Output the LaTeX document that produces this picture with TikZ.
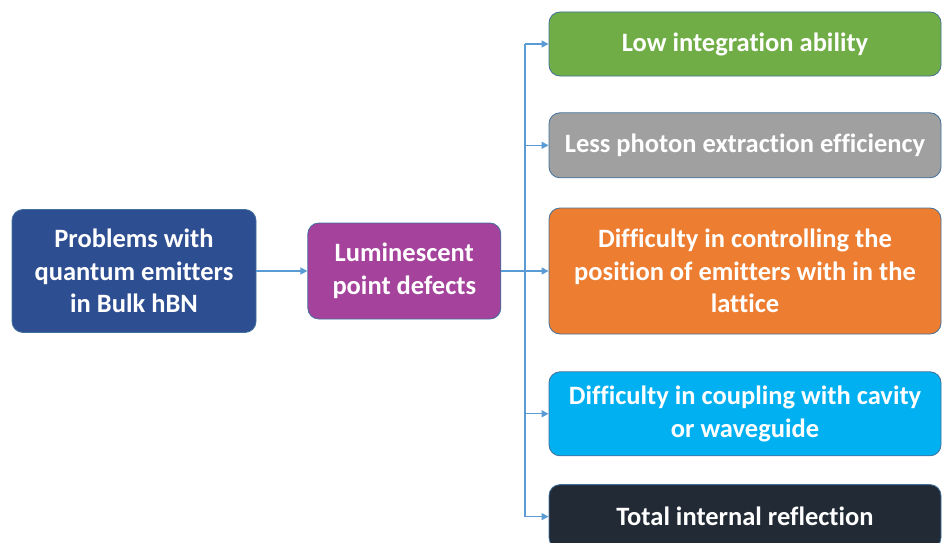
\documentclass[tikz,border=0pt]{standalone}
\usepackage{fontspec}
\setmainfont{Carlito}[Ligatures=NoCommon]
\usepackage{tikz}
\usetikzlibrary{arrows.meta,positioning}
\definecolor{probblue}{HTML}{2E4E92}
\definecolor{defpurple}{HTML}{A4429C}
\definecolor{lowgreen}{HTML}{70AD47}
\definecolor{lessgray}{HTML}{A0A0A0}
\definecolor{ctrlorange}{HTML}{ED7D31}
\definecolor{coupcyan}{HTML}{00B0F0}
\definecolor{tirdark}{HTML}{222A35}
\definecolor{boxedge}{HTML}{41719C}
\definecolor{linkblue}{HTML}{5B9BD5}

\tikzset{
  box/.style={draw=boxedge, line width=0.8pt, rounded corners=11pt, text=white,
    font=\bfseries\fontsize{26.5}{32.5}\selectfont, align=center, inner sep=0pt},
  item/.style={box, minimum width=392pt},
  link/.style={draw=linkblue, line width=1.3pt},
  arrow/.style={link, -{Triangle[length=7pt,width=7pt]}}
}

\begin{document}
\begin{tikzpicture}[x=1pt, y=1pt]
\clip (0,0) rectangle (942,-543);

% left side
\node[box, fill=probblue, minimum width=244pt, minimum height=123pt] (prob) at (134,-271)
  {Problems with\\quantum emitters\\in Bulk hBN};
\node[box, fill=defpurple, minimum width=193pt, minimum height=96pt, right=51pt of prob] (defects)
  {Luminescent\\point defects};

% list of problems
\node[item, fill=lowgreen, minimum height=64pt] (low) at (745,-44) {Low integration ability};
\node[item, fill=lessgray, minimum height=65pt, below=36pt of low] (less) {Less photon extraction efficiency};
\node[item, fill=ctrlorange, minimum height=126pt] (ctrl) at (745,-271)
  {Difficulty in controlling the\\position of emitters with in the\\lattice};
\node[item, fill=coupcyan, minimum height=84pt, below=37pt of ctrl] (coup)
  {Difficulty in coupling with cavity\\or waveguide};
\node[item, fill=tirdark, minimum height=64pt, below=28pt of coup] (tir) {Total internal reflection};

\coordinate (trunk) at (525,0);

\draw[arrow] (prob) -- (defects);
\draw[arrow] (defects) -- (ctrl);
\draw[link] (trunk |- low) -- (trunk |- tir);
\foreach \n in {low,less,coup,tir}
  \draw[arrow] (trunk |- \n) -- (\n.west);
\end{tikzpicture}
\end{document}
